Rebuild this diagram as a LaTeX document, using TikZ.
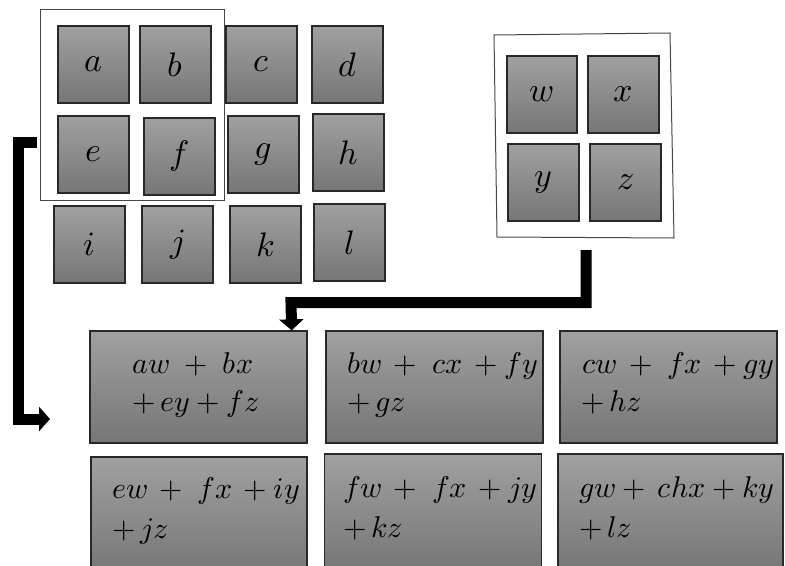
\documentclass[tikz,border=0pt]{standalone}
\usepackage{fontspec}
\usepackage{unicode-math}
\usetikzlibrary{arrows.meta,calc}
\definecolor{boxtop}{RGB}{160,160,160}
\definecolor{boxbot}{RGB}{118,118,118}
\definecolor{boxedge}{RGB}{40,40,40}
\definecolor{frameedge}{RGB}{70,70,70}
\tikzset{
  cell/.style={draw=boxedge, line width=1.3bp, top color=boxtop, bottom color=boxbot,
    minimum width=71bp, minimum height=77bp, inner sep=0pt,
    font=\fontsize{34bp}{40bp}\selectfont},
  bigcell/.style={draw=boxedge, line width=1.3bp, top color=boxtop, bottom color=boxbot,
    minimum width=217bp, minimum height=112bp, inner sep=0pt},
  eqtext/.style={anchor=base west, inner sep=0pt, font=\fontsize{30bp}{36bp}\selectfont},
  frame/.style={draw=frameedge, line width=1bp, inner sep=0pt},
  flow/.style={line width=11bp, line join=miter, -{Triangle[width=24bp,length=11bp]}}
}
\begin{document}
\begin{tikzpicture}[x=1bp,y=-1bp]
\useasboundingbox (0,0) rectangle (785,566);
% left frame
\node[frame, minimum width=183bp, minimum height=190bp] (fr1) at (132.5,105) {};
% right frame (slightly tilted)
\coordinate (q1) at (494,35);
\coordinate (q2) at (670,33);
\coordinate (q3) at (674,238);
\coordinate (q4) at (497,237);
\draw[frame] (q1) -- (q2) -- (q3) -- (q4) -- cycle;
% small cells
\node[cell] (a) at (93.5,64.5) {$a$};
\node[cell] (b) at (175.5,64.5) {$b$};
\node[cell] (c) at (261.5,64.5) {$c$};
\node[cell] (d) at (347.5,64.5) {$d$};
\node[cell] (e) at (93.5,154.5) {$e$};
\node[cell] (f) at (179.5,156.5) {$f$};
\node[cell] (g) at (263.5,154.5) {$g$};
\node[cell] (h) at (348.5,152.5) {$h$};
\node[cell] (i) at (89.5,244.5) {$i$};
\node[cell] (j) at (177.5,244.5) {$j$};
\node[cell] (k) at (265.5,244.5) {$k$};
\node[cell] (l) at (349.5,242.5) {$l$};
\node[cell, minimum width=70bp] (w) at (542,94.5) {$w$};
\node[cell] (x) at (623.5,94.5) {$x$};
\node[cell] (y) at (543.5,182.5) {$y$};
\node[cell] (z) at (625.5,182.5) {$z$};
% big cells
\node[bigcell] (r1) at (198.5,387) {};
\node[bigcell] (r2) at (434.5,387) {};
\node[bigcell] (r3) at (668.5,387) {};
\node[bigcell, minimum width=216bp, minimum height=118bp] (r4) at (199,516) {};
\node[bigcell, minimum height=118bp] (r5) at (433,513) {};
\node[bigcell, minimum width=225bp, minimum height=118bp] (r6) at (670.5,513) {};
% texts
\node[eqtext] (r1a) at (132,373) {$aw\;+\;bx$};
\node[eqtext] (r1b) at (132,411) {${+}\,ey + fz$};
\node[eqtext] (r2a) at (347,373) {$bw\,+\;cx\,+fy$};
\node[eqtext] (r2b) at (347,411) {${+}\,gz$};
\node[eqtext] (r3a) at (582,373) {$cw\,+\;fx\,+gy$};
\node[eqtext] (r3b) at (581,411) {${+}\,hz$};
\node[eqtext] (r4a) at (112,498) {$ew\,+\;fx\,+iy$};
\node[eqtext] (r4b) at (112,538) {${+}\,jz$};
\node[eqtext] (r5a) at (343,497) {$fw\,+\;fx\,+jy$};
\node[eqtext] (r5b) at (343,537) {${+}\,kz$};
\node[eqtext] (r6a) at (579,497) {$gw+\,chx+ky$};
\node[eqtext] (r6b) at (579,537) {${+}\,lz$};
% connectors
\coordinate (s1) at (37,143);
\coordinate (e1) at (50,419);
\draw[flow] (s1) -- (18.5,143) -- (18.5,419) -- (e1);
\coordinate (s2) at (586,250);
\draw[flow] (s2) -- (586,302.5) -- (291,302.5) -- ($(r1.north east)+(-16,0)$);
\end{tikzpicture}
\end{document}
